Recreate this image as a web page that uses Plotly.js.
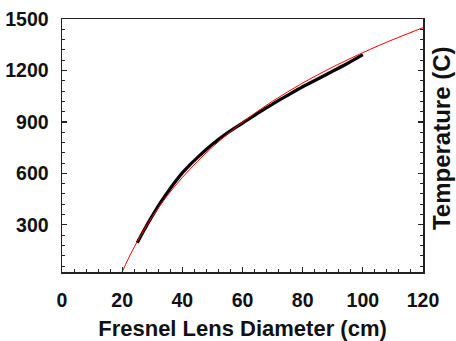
<!DOCTYPE html>
<html>
<head>
<meta charset="utf-8">
<script src="https://cdn.plot.ly/plotly-3.0.1.min.js"></script>
<style>html,body{margin:0;padding:0;background:#fff;}#chart{width:456px;height:341px;}</style>
</head>
<body>
<div id="chart"></div>
<script>
// Measured data (black): Fresnel lens diameter (cm) vs temperature (C)
const dataDiameter = [25, 27.5, 30, 32.5, 35, 37.5, 40, 42.5, 45, 47.5, 50, 55, 60, 65, 70, 75, 80, 85, 90, 95, 100];
const dataTemp     = [195, 276, 352, 424, 488, 548, 603, 650, 692, 732, 770, 836, 893, 950, 1004, 1055, 1105, 1150, 1196, 1242, 1292];
// Fit curve (red)
const fitDiameter = [20, 22, 25, 30, 35, 40, 45, 50, 55, 60, 65, 70, 75, 80, 85, 90, 95, 100, 105, 110, 115, 120];
const fitTemp     = [25, 101, 202, 347, 470, 576, 669, 753, 829, 898, 962, 1021, 1075, 1127, 1175, 1220, 1263, 1304, 1343, 1380, 1415, 1449];
const xTicks = [0, 20, 40, 60, 80, 100, 120];
const yTicks = [300, 600, 900, 1200, 1500];

const font = {family: '"Liberation Sans", Arial, sans-serif', color: '#111', weight: 'bold'};

const traces = [
  {x: dataDiameter, y: dataTemp, type: 'scatter', mode: 'lines',
   line: {color: '#000', width: 3.2, shape: 'spline'}, hoverinfo: 'skip'},
  {x: fitDiameter, y: fitTemp, type: 'scatter', mode: 'lines',
   line: {color: '#ff0000', width: 1, shape: 'spline'}, hoverinfo: 'skip'}
];

const layout = {
  width: 456, height: 341,
  margin: {l: 62, r: 33, t: 19, b: 69},
  paper_bgcolor: '#fff', plot_bgcolor: '#fff',
  showlegend: false,
  xaxis: {
    range: [0, 120], tickvals: xTicks, ticktext: xTicks.map(String),
    ticks: 'inside', ticklen: 5, tickwidth: 1.3, tickcolor: '#222',
    minor: {dtick: 4, ticks: 'inside', ticklen: 3, tickwidth: 1, tickcolor: '#222'},
    showline: true, linecolor: '#222', linewidth: 1.5, mirror: true,
    showgrid: false, zeroline: false,
    tickfont: Object.assign({size: 19.5}, font),
    ticklabelstandoff: 10,
    title: {text: 'Fresnel Lens Diameter (cm)', font: Object.assign({size: 22}, font), standoff: 13}
  },
  yaxis: {
    range: [25, 1500], tickvals: yTicks, ticktext: yTicks.map(String),
    ticks: 'inside', ticklen: 5, tickwidth: 1.3, tickcolor: '#222',
    minor: {dtick: 60, tick0: 0, ticks: 'inside', ticklen: 3, tickwidth: 1, tickcolor: '#222'},
    showline: true, linecolor: '#222', linewidth: 1.5, mirror: 'ticks',
    showgrid: false, zeroline: false,
    tickfont: Object.assign({size: 19.5}, font),
    ticklabelstandoff: 8
  },
  annotations: [{
    text: 'Temperature (C)', xref: 'paper', yref: 'paper',
    x: 1.053, y: 0.53, xanchor: 'center', yanchor: 'middle',
    textangle: -90, showarrow: false,
    font: Object.assign({size: 24}, font)
  }]
};

Plotly.newPlot('chart', traces, layout, {staticPlot: true, displayModeBar: false});
</script>
</body>
</html>
